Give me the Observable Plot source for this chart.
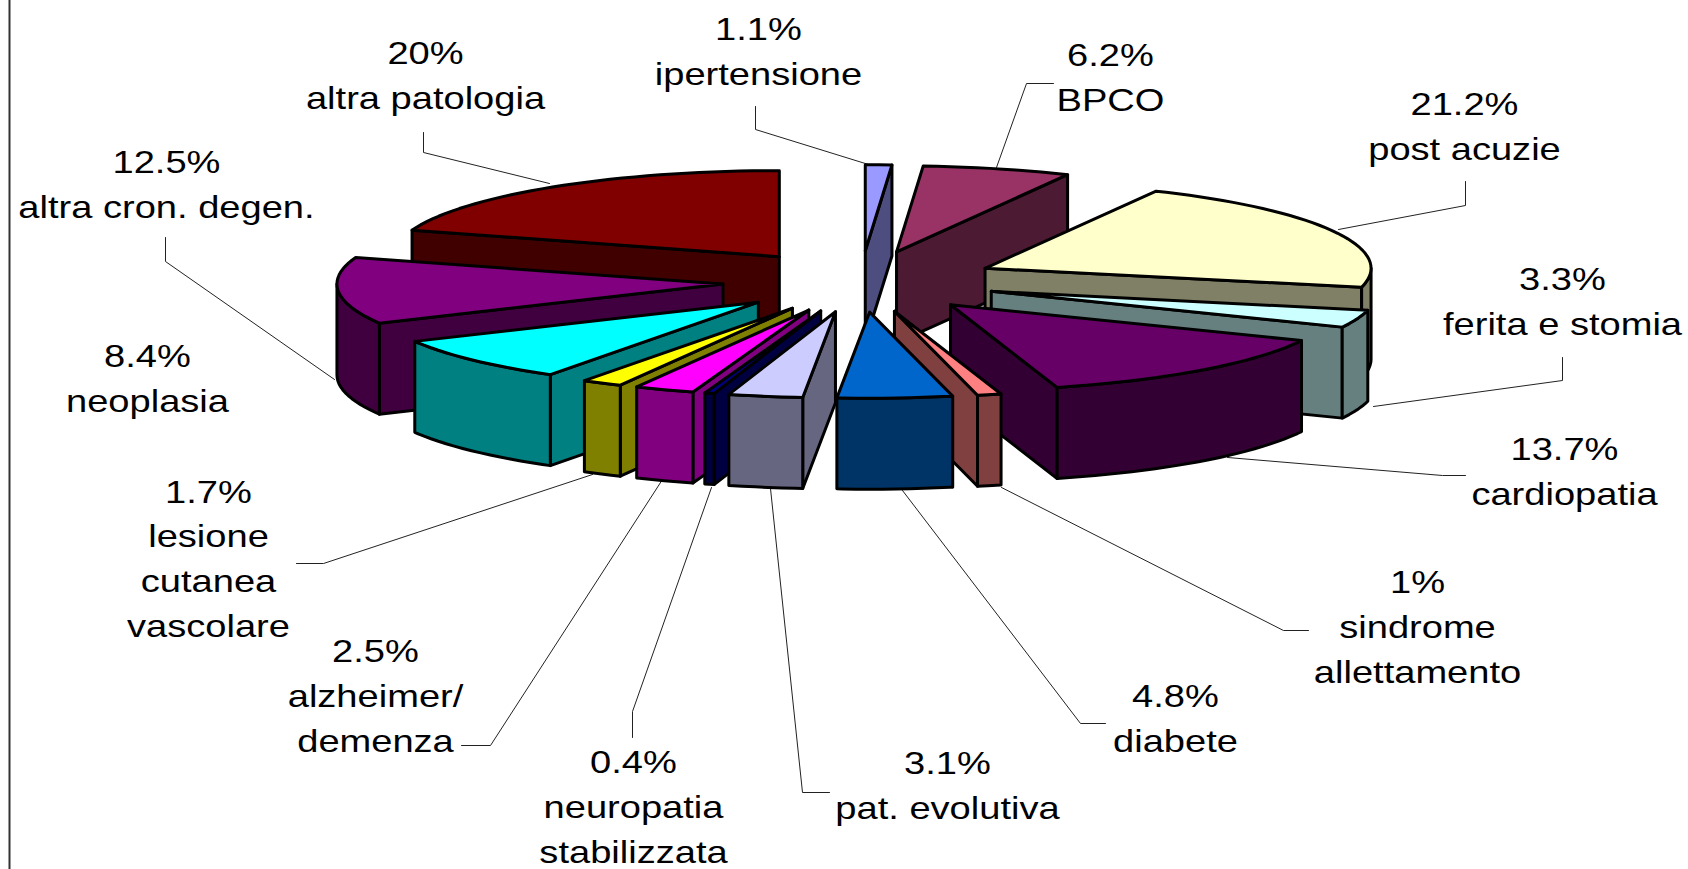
<!DOCTYPE html>
<html>
<head>
<meta charset="utf-8">
<script src="https://cdn.jsdelivr.net/npm/d3@7"></script>
<script src="https://cdn.jsdelivr.net/npm/@observablehq/plot@0.6"></script>
<style>
  html, body { margin: 0; padding: 0; background: #fff; }
  svg { display: block; }
</style>
</head>
<body>
<div id="chart"></div>
<script>
// Distribution of patients by pathology (percent), clockwise from twelve o'clock
const categories = ["ipertensione", "BPCO", "post acuzie", "ferita e stomia", "cardiopatia",
  "sindrome\nallettamento", "diabete", "pat. evolutiva", "neuropatia\nstabilizzata",
  "alzheimer/\ndemenza", "lesione\ncutanea\nvascolare", "neoplasia", "altra cron. degen.", "altra patologia"];
const values = [1.1, 6.2, 21.2, 3.3, 13.7, 1, 4.8, 3.1, 0.4, 2.5, 1.7, 8.4, 12.5, 20];
const topColors = ["#9999FF", "#993366", "#FFFFCC", "#CCFFFF", "#660066", "#FF8080", "#0066CC",
  "#CCCCFF", "#000080", "#FF00FF", "#FFFF00", "#00FFFF", "#800080", "#800000"];
const sideColors = ["#4D4D80", "#4D1A33", "#808066", "#668080", "#330033", "#804040", "#003366",
  "#666680", "#000040", "#800080", "#808000", "#008080", "#400040", "#400000"];

// Label anchors, in the same order as the categories
const labelX = [758, 1110, 1464, 1562, 1564, 1417, 1175, 947, 633, 375, 208, 147, 166, 425];
const labelY = [48, 74, 123, 298, 468, 623, 715, 782, 803, 692, 555, 375, 181, 72];

// Leader lines from the labels to the slices; slices without one are omitted
const leaders = [
  {slice: 0,  points: [[755, 106], [755, 129], [868, 164]]},
  {slice: 1,  points: [[1053, 83], [1026, 83], [996, 167]]},
  {slice: 2,  points: [[1465, 181], [1465, 205], [1338, 229]]},
  {slice: 3,  points: [[1562, 357], [1562, 380], [1373, 406]]},
  {slice: 4,  points: [[1465, 475], [1442, 475], [1227, 457]]},
  {slice: 5,  points: [[1308, 630], [1283, 630], [1001, 487]]},
  {slice: 6,  points: [[1105, 723], [1080, 723], [902, 490]]},
  {slice: 7,  points: [[829, 792], [802, 792], [770, 488]]},
  {slice: 8,  points: [[632, 737], [632, 711], [711, 487]]},
  {slice: 9,  points: [[461, 745], [490, 745], [662, 479]]},
  {slice: 10, points: [[296, 563], [323, 563], [592, 474]]},
  {slice: 12, points: [[165, 237], [165, 261], [334, 379]]},
  {slice: 13, points: [[423, 132], [423, 152], [549, 183]]}
];

// Pie geometry: a flattened disc with every slice pulled out along its mid-angle
const pie = {cx: 860, cy: 281, rx: 386, ry: 86, explode: 0.3575, depth: 91, arcStep: 2};

const total = d3.sum(values);
const rad = d => d * Math.PI / 180;

// Point of the disc's top surface at a given angle (degrees clockwise from north) and radius fraction
const onDisc = (deg, r, ox, oy) => [
  ox + pie.rx * r * Math.sin(rad(deg)),
  oy - pie.ry * r * Math.cos(rad(deg))
];

function arcAngles(a0, a1) {
  const out = [a0];
  for (let a = Math.ceil(a0 / pie.arcStep) * pie.arcStep; a < a1; a += pie.arcStep) if (a > a0) out.push(a);
  out.push(a1);
  return out;
}

let running = 0;
const slices = values.map((v, i) => {
  const a0 = running / total * 360;
  running += v;
  const a1 = running / total * 360;
  const mid = (a0 + a1) / 2;
  const [ox, oy] = onDisc(mid, pie.explode, pie.cx, pie.cy);
  return {i, a0, a1, mid, ox, oy};
});

// A radial wall shows only if the slice's top surface lies above its edge on screen
function radialVisible(s, a) {
  const [ex, ey] = onDisc(a, 1, 0, 0);
  const [mx, my] = onDisc(s.mid, 1, 0, 0);
  if (Math.abs(ex) < 1) return false;
  return (ex * my - ey * mx) * ex < 0;
}

const down = ([x, y]) => [x, y + pie.depth];

// Faces are listed back to front so nearer slices paint over farther ones
const rows = [];
let faceId = 0;
const addFace = (pts, color) => {
  const id = faceId++;
  [...pts, pts[0]].forEach(([x, y]) => rows.push({x, y, face: id, color}));
};

d3.sort(slices, s => -Math.cos(rad(s.mid))).forEach(s => {
  const apex = [s.ox, s.oy];
  const side = sideColors[s.i];
  for (const a of [s.a0, s.a1]) {
    if (!radialVisible(s, a)) continue;
    const rim = onDisc(a, 1, s.ox, s.oy);
    addFace([apex, rim, down(rim), down(apex)], side);
  }
  // The curved outer wall faces the viewer between 90 and 270 degrees
  const w0 = Math.max(s.a0, 90), w1 = Math.min(s.a1, 270);
  if (w1 > w0) {
    const rim = arcAngles(w0, w1).map(a => onDisc(a, 1, s.ox, s.oy));
    addFace([...rim, ...rim.map(down).reverse()], side);
  }
  const arc = arcAngles(s.a0, s.a1).map(a => onDisc(a, 1, s.ox, s.oy));
  addFace([apex, ...arc], topColors[s.i]);
});

const leaderRows = leaders.flatMap(l => l.points.map(([x, y]) => ({x, y, slice: l.slice})));

const labels = categories.map((name, i) => ({
  x: labelX[i],
  y: labelY[i],
  text: `${values[i]}%\n${name}`
}));

// Labels are set in a horizontally widened face
const widenText = (index, scales, values, dimensions, context, next) => {
  const g = next(index, scales, values, dimensions, context);
  d3.select(g).selectAll("text").attr("transform", function () {
    return `${this.getAttribute("transform") ?? ""} scale(1.19,1)`;
  });
  return g;
};

const chart = Plot.plot({
  width: 1688,
  height: 869,
  margin: 0,
  x: {domain: [0, 1688], range: [0, 1688], axis: null},
  y: {domain: [0, 869], range: [0, 869], axis: null},
  color: {type: "identity"},
  style: {background: "#fff"},
  marks: [
    // Chart-area frame on the left
    Plot.ruleX([9], {stroke: "#333", strokeWidth: 2}),
    Plot.line(leaderRows, {x: "x", y: "y", z: "slice", stroke: "#222", strokeWidth: 1}),
    Plot.line(rows, {
      x: "x", y: "y", z: "face",
      fill: "color",
      stroke: "#000",
      strokeWidth: 3,
      strokeLinejoin: "round"
    }),
    Plot.text(labels, {
      x: "x", y: "y", text: "text",
      fontSize: 32,
      lineHeight: 1.4,
      fontFamily: "'Liberation Sans', Arial, sans-serif",
      fill: "#000",
      textAnchor: "middle",
      lineAnchor: "middle",
      render: widenText
    })
  ]
});
document.getElementById("chart").appendChild(chart);
</script>
</body>
</html>
